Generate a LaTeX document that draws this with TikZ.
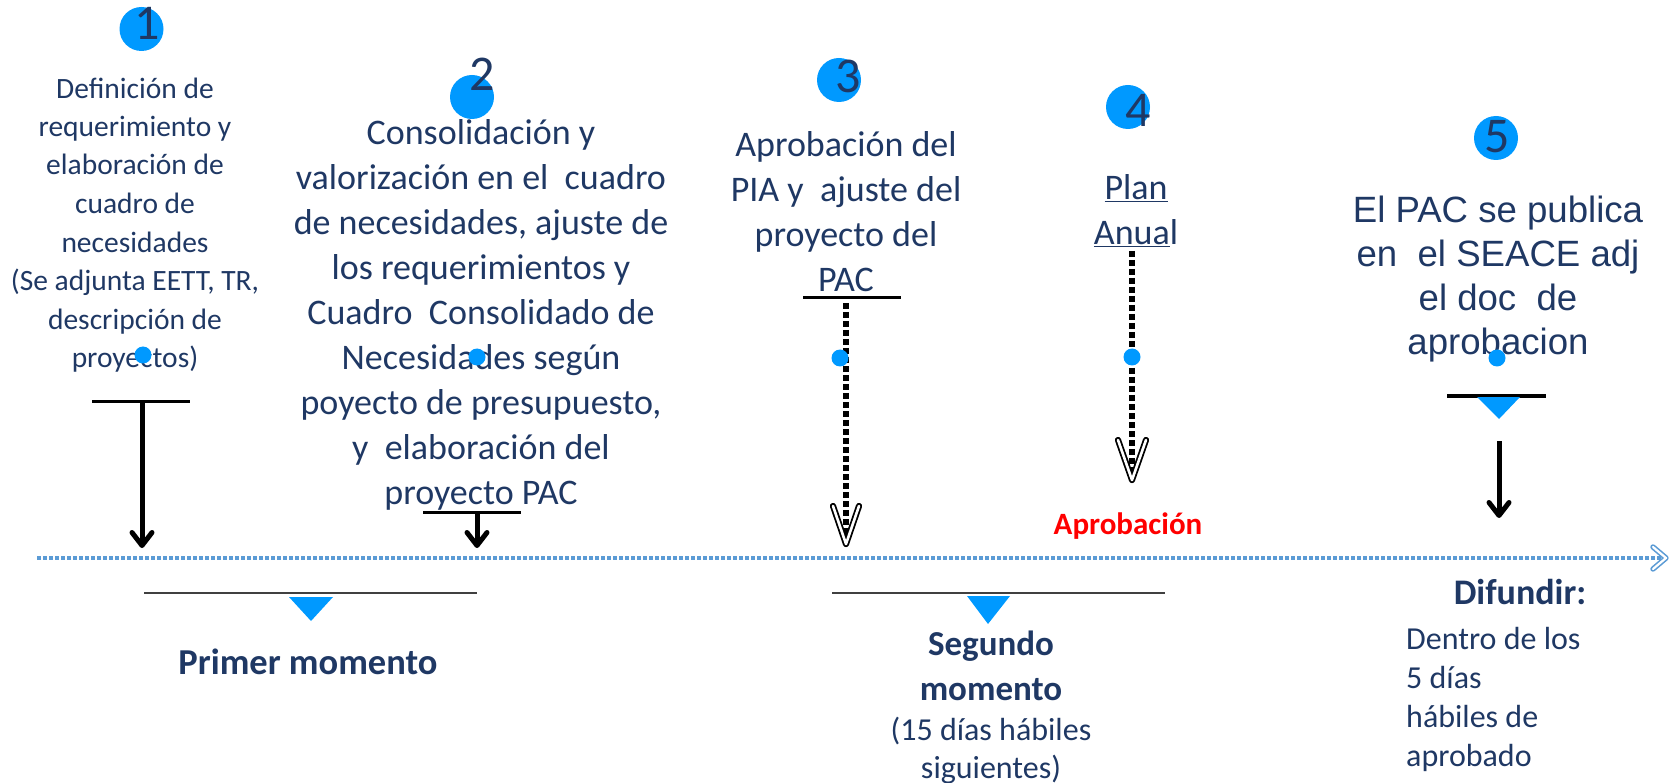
\documentclass[tikz,border=0pt]{standalone}
\usepackage{fontspec}
\setmainfont{Carlito}
\newfontfamily\arialf{Liberation Sans}
\usetikzlibrary{arrows.meta,calc}
\definecolor{navy}{RGB}{31,56,100}
\definecolor{dotblue}{RGB}{0,153,255}
\definecolor{tlblue}{RGB}{91,155,213}
\definecolor{barg}{RGB}{64,64,64}
\definecolor{aprored}{RGB}{255,0,0}
\begin{document}
\begin{tikzpicture}[x=1pt,y=-1pt,
  txt/.style={text=navy, inner sep=0pt, align=center, anchor=base},
  numcirc/.style={circle, fill=dotblue, minimum size=44pt, inner sep=0pt},
  numtxt/.style={text=navy, inner sep=0pt, anchor=base, font={\fontsize{50}{50}\selectfont}},
  smalldot/.style={circle, fill=dotblue, minimum size=17pt, inner sep=0pt},
  blackbar/.style={draw=black, line width=3pt},
  graybar/.style={draw=barg, line width=2.2pt},
  tri/.style={fill=dotblue},
  solidarr/.style={draw=black, line width=5pt, -{Straight Barb[length=13pt,width=20pt,round]}},
  dasharr/.style={draw=black, line width=6pt, dash pattern=on 6pt off 3pt},
  dhead/.style={draw=black, line width=1.8pt, double=white, double distance=2.6pt, line join=round, line cap=round},
  timeline/.style={draw=tlblue, line width=4.5pt, dash pattern=on 4pt off 2pt},
  thead/.style={draw=tlblue, line width=1.6pt, double=white, double distance=2.2pt, line join=round, line cap=round}
]
\useasboundingbox (0,0) rectangle (1673,783);

% timeline
\coordinate (tls) at (37,558);
\coordinate (tle) at (1666,558);
\draw[timeline] (tls) -- (tle);
\draw[thead] ($(tle)+(-13,-11)$) -- (tle) -- ($(tle)+(-13,11)$);

% number circles
\node[numcirc] (c1) at (141.5,29) {};
\node[numcirc] (c2) at (472,97) {};
\node[numcirc] (c3) at (839,80) {};
\node[numcirc] (c4) at (1128,107) {};
\node[numcirc] (c5) at (1496,138) {};
\node[numtxt] (n1) at (147,40) {1};
\node[numtxt] (n2) at (482,91) {2};
\node[numtxt] (n3) at (848,93) {3};
\node[numtxt] (n4) at (1138,127) {4};
\node[numtxt] (n5) at (1497,153) {5};

% step texts (base anchor = baseline of last line)
\node[txt, font={\fontsize{29.5}{38.5}\selectfont}] (t1) at (135,367.5)
  {Definición de\\requerimiento y\\elaboración de\\cuadro de\\necesidades\\(Se adjunta EETT, TR,\\descripción de\\proyectos)};
\node[txt, font={\fontsize{36}{45}\selectfont}] (t2) at (481,504)
  {Consolidación y\\valorización en el\ \ cuadro\\de necesidades, ajuste de\\los requerimientos y\\Cuadro\ \ Consolidado de\\Necesidades según\\poyecto de presupuesto,\\y\ \ elaboración del\\proyecto PAC};
\node[txt, font={\fontsize{36}{45}\selectfont}] (t3) at (846,292)
  {Aprobación del\\PIA y\ \ ajuste del\\proyecto del\\PAC};
\node[txt, font={\fontsize{36}{45}\selectfont}] (t4) at (1136,245)
  {\underline{Plan}\\\underline{Anua}l};
\node[txt, font={\arialf\fontsize{36.6}{44.3}\selectfont}] (t5) at (1498,355)
  {El PAC se publica\\en\ \ el SEACE adj\\el doc\ \ de\\aprobacion};

% bars above arrows
\coordinate (b1l) at (92,401);  \coordinate (b1r) at (190,401);
\coordinate (b2l) at (423,512); \coordinate (b2r) at (521,512);
\coordinate (b3l) at (803,298); \coordinate (b3r) at (901,298);
\coordinate (b5l) at (1447,396); \coordinate (b5r) at (1546,396);
\draw[blackbar] (b1l) -- (b1r);
\draw[blackbar] (b2l) -- (b2r);
\draw[blackbar] (b3l) -- (b3r);
\draw[blackbar] (b5l) -- (b5r);
\fill[tri] (1477,397) -- (1520,397) -- (1499,419) -- cycle;

% solid arrows
\coordinate (a1s) at (142,401); \coordinate (a1e) at (142,548);
\coordinate (a2s) at (477,512); \coordinate (a2e) at (477,548);
\coordinate (a5s) at (1499,441); \coordinate (a5e) at (1499,518);
\draw[solidarr] (a1s) -- (a1e);
\draw[solidarr] (a2s) -- (a2e);
\draw[solidarr] (a5s) -- (a5e);

% dotted arrows
\coordinate (a3s) at (846,303); \coordinate (a3e) at (846,544);
\coordinate (a4s) at (1132,251); \coordinate (a4e) at (1132,480);
\draw[dasharr] (a3s) -- ($(a3e)+(0,-10)$);
\draw[dhead] ($(a3e)+(-13,-38)$) -- (a3e) -- ($(a3e)+(13,-38)$);
\draw[dasharr] (a4s) -- ($(a4e)+(0,-10)$);
\draw[dhead] ($(a4e)+(-14,-40)$) -- (a4e) -- ($(a4e)+(14,-40)$);

\node[inner sep=0pt, anchor=base, text=aprored, font={\bfseries\fontsize{31}{31}\selectfont}] (apr) at (1128,534) {Aprobación};

% lower bars and moments
\coordinate (m1l) at (144,593); \coordinate (m1r) at (477,593);
\coordinate (m2l) at (832,593); \coordinate (m2r) at (1165,593);
\draw[graybar] (m1l) -- (m1r);
\draw[graybar] (m2l) -- (m2r);
\fill[tri] (289,597) -- (333,597) -- (311,621) -- cycle;
\fill[tri] (967,596) -- (1010,596) -- (988,624) -- cycle;

\node[txt, font={\bfseries\fontsize{36.5}{45}\selectfont}] (pm) at (308,674) {Primer momento};
\node[txt, font={\bfseries\fontsize{35}{45}\selectfont}] (sm) at (991,700) {Segundo\\momento};
\node[txt, font={\fontsize{32}{38.5}\selectfont}] (smd) at (991,778.5) {(15 días hábiles\\siguientes)};
\node[txt, font={\bfseries\fontsize{36}{45}\selectfont}] (df) at (1520,604) {Difundir:};
\node[txt, anchor=base west, align=left, font={\fontsize{32}{38.7}\selectfont}] (dfd) at (1406,766) {Dentro de los\\5 días\\hábiles de\\aprobado};

% small dots
\node[smalldot] (d1) at (143,355) {};
\node[smalldot] (d2) at (477,357) {};
\node[smalldot] (d3) at (840,358) {};
\node[smalldot] (d4) at (1132,357) {};
\node[smalldot] (d5) at (1497,358) {};
\end{tikzpicture}
\end{document}
